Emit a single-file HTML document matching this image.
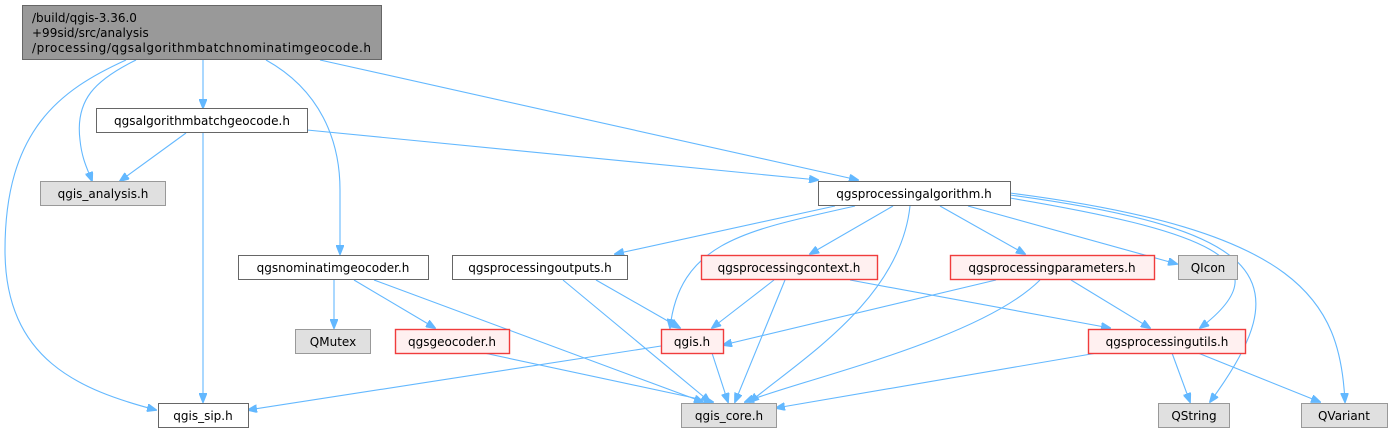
<!DOCTYPE html>
<html><head><meta charset="utf-8"><style>
html,body{margin:0;padding:0;background:#fff;}
svg{display:block;}
text{font-family:"DejaVu Sans","Liberation Sans",sans-serif;font-size:12px;fill:#000;}
.e{fill:none;stroke:#63b8ff;stroke-width:1.1;marker-end:url(#a);}
.w{fill:#fff;stroke:#666;}
.g{fill:#e0e0e0;stroke:#999;}
.r{fill:#fff0f0;stroke:#f03c3c;stroke-width:1.4;}
</style></head><body>
<svg width="1393" height="432" viewBox="0 0 1393 432" xmlns="http://www.w3.org/2000/svg">
<defs><marker id="a" markerWidth="10" markerHeight="8" refX="9" refY="4" orient="auto" markerUnits="userSpaceOnUse"><path d="M0,0 L10,4 L0,8 z" fill="#63b8ff" stroke="#63b8ff"/></marker></defs>
<!-- edges -->
<path class="e" d="M126,60 C60,90 5,130 5,250 C5,360 80,390 156,410"/>
<path class="e" d="M136,60 C95,80 75,100 80,140 C82,160 88,170 92,181"/>
<path class="e" d="M203,60 L203,108"/>
<path class="e" d="M266,60 C320,90 340,140 340,190 L340,254"/>
<path class="e" d="M320,60 L858,180"/>
<path class="e" d="M186,133 L120,181"/>
<path class="e" d="M203,133 L203,402"/>
<path class="e" d="M307,130 L818,180"/>
<path class="e" d="M334,280 L334,328"/>
<path class="e" d="M354,280 L435,328"/>
<path class="e" d="M374,280 L703,402"/>
<path class="e" d="M484,353 L713,402"/>
<path class="e" d="M563,280 L710,402"/>
<path class="e" d="M596,280 L680,328"/>
<path class="e" d="M661,346 L248,410"/>
<path class="e" d="M712,353 L728,402"/>
<path class="e" d="M774,280 L712,328"/>
<path class="e" d="M785,280 L735,402"/>
<path class="e" d="M850,280 L1110,328"/>
<path class="e" d="M996,280 L723,345"/>
<path class="e" d="M1040,280 C980,340 800,380 745,402"/>
<path class="e" d="M1071,280 L1150,328"/>
<path class="e" d="M1097,353 L776,408"/>
<path class="e" d="M1172,353 L1190,402"/>
<path class="e" d="M1198,353 L1320,402"/>
<path class="e" d="M835,206 L615,254"/>
<path class="e" d="M855,206 C750,230 680,240 670,328"/>
<path class="e" d="M893,206 L810,254"/>
<path class="e" d="M910,206 C900,300 800,360 750,402"/>
<path class="e" d="M940,206 L1025,254"/>
<path class="e" d="M968,206 L1177,264"/>
<path class="e" d="M1010,198 C1200,230 1290,260 1200,328"/>
<path class="e" d="M1010,195 C1270,230 1300,280 1210,402"/>
<path class="e" d="M1010,193 C1300,230 1340,300 1345,402"/>
<!-- nodes -->
<rect x="22.5" y="5.5" width="359" height="54" fill="#999" stroke="#666"/>
<text x="32" y="22">/build/qgis-3.36.0</text>
<text x="32" y="37">+99sid/src/analysis</text>
<text x="32" y="52" textLength="339">/processing/qgsalgorithmbatchnominatimgeocode.h</text>
<rect class="w" x="96.5" y="108.5" width="211" height="24"/><text x="202" y="125" text-anchor="middle">qgsalgorithmbatchgeocode.h</text>
<rect class="g" x="40.5" y="181.5" width="125" height="24"/><text x="103" y="198" text-anchor="middle">qgis_analysis.h</text>
<rect class="w" x="818.5" y="181.5" width="192" height="24"/><text x="914" y="198" text-anchor="middle">qgsprocessingalgorithm.h</text>
<rect class="w" x="238.5" y="255.5" width="190" height="24"/><text x="333" y="272" text-anchor="middle">qgsnominatimgeocoder.h</text>
<rect class="w" x="452.5" y="255.5" width="175" height="24"/><text x="540" y="272" text-anchor="middle">qgsprocessingoutputs.h</text>
<rect class="r" x="701.5" y="255.5" width="176" height="24"/><text x="789" y="272" text-anchor="middle">qgsprocessingcontext.h</text>
<rect class="r" x="950.5" y="255.5" width="204" height="24"/><text x="1052" y="272" text-anchor="middle">qgsprocessingparameters.h</text>
<rect class="g" x="1178.5" y="255.5" width="59" height="24"/><text x="1208" y="272" text-anchor="middle">QIcon</text>
<rect class="g" x="295.5" y="329.5" width="75" height="24"/><text x="333" y="346" text-anchor="middle">QMutex</text>
<rect class="r" x="395.5" y="329.5" width="114" height="24"/><text x="452" y="346" text-anchor="middle">qgsgeocoder.h</text>
<rect class="r" x="661.5" y="329.5" width="62" height="24"/><text x="692" y="346" text-anchor="middle">qgis.h</text>
<rect class="r" x="1088.5" y="329.5" width="157" height="24"/><text x="1167" y="346" text-anchor="middle">qgsprocessingutils.h</text>
<rect class="w" x="158.5" y="403.5" width="90" height="24"/><text x="203" y="420" text-anchor="middle">qgis_sip.h</text>
<rect class="g" x="681.5" y="403.5" width="95" height="24"/><text x="729" y="420" text-anchor="middle">qgis_core.h</text>
<rect class="g" x="1158.5" y="403.5" width="71" height="24"/><text x="1194" y="420" text-anchor="middle">QString</text>
<rect class="g" x="1301.5" y="403.5" width="86" height="24"/><text x="1344" y="420" text-anchor="middle">QVariant</text>
</svg>
</body></html>
